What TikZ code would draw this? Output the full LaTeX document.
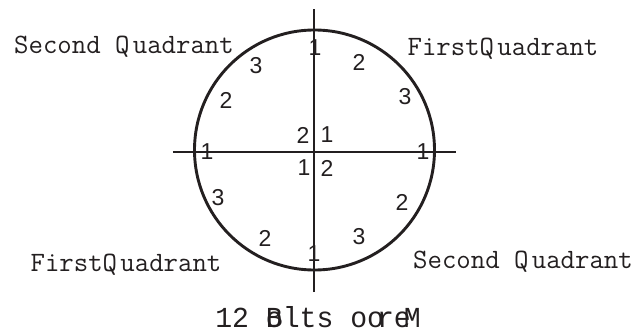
\documentclass[tikz,border=0pt]{standalone}
\usepackage{fontspec}
\newfontfamily\boltfont{Liberation Mono}
\newfontfamily\numfont{Liberation Sans}
\definecolor{inkblack}{HTML}{231F20}
\newcommand{\squeeze}[2]{\scalebox{#1}[1]{#2}}

\begin{document}
\begin{tikzpicture}[x=1pt, y=1pt,
    count/.style={font=\numfont\fontsize{23}{23}\selectfont, inner sep=0pt, text=inkblack},
    quad/.style={font=\ttfamily\fontsize{28}{28}\selectfont, inner sep=0pt, anchor=base, text=inkblack},
    boltline/.style={font=\boltfont\fontsize{29}{29}\selectfont, inner sep=0pt, anchor=base, text=inkblack}]
    \useasboundingbox (-314,-181) rectangle (324,152);
    % Coordinates
    \coordinate (O) at (0,0);
    \coordinate (C) at (0.5,2);
    \coordinate (T) at (0,143);
    \coordinate (B) at (0,-140);
    \coordinate (L) at (-141,0);
    \coordinate (R) at (142,0);

    % Axes and rim
    \draw[line width=1.3pt, color=inkblack] (L) -- (R);
    \draw[line width=1.3pt, color=inkblack] (B) -- (T);
    \draw[line width=2.9pt, color=inkblack] (C) circle (120pt);

    % Bolt order round the rim
    \node[count] (n1) at (1,104) {1};
    \node[count] (n2) at (45,90) {2};
    \node[count] (n3) at (91,55) {3};
    \node[count] (n4) at (109,0) {1};
    \node[count] (n5) at (88,-50) {2};
    \node[count] (n6) at (45,-85) {3};
    \node[count] (n7) at (0,-102) {1};
    \node[count] (n8) at (-49,-86) {2};
    \node[count] (n9) at (-96,-46) {3};
    \node[count] (n10) at (-107,0) {1};
    \node[count] (n11) at (-88,52) {2};
    \node[count] (n12) at (-58,86) {3};

    % Centre
    \node[count] (c1) at (-11,17) {2};
    \node[count] (c2) at (13,17) {1};
    \node[count] (c3) at (-10,-16) {1};
    \node[count] (c4) at (13,-16) {2};

    % Quadrants
    \node[quad] (sq1) at (-190,99) {Second Q\kern.12em uadrant};
    \node[quad] (fq1) at (189,97) {FirstQ\kern.12em uadrant};
    \node[quad] (fq2) at (-188,-119) {FirstQ\kern.12em uadrant};
    \node[quad] (sq2) at (209,-116) {Second Q\kern.12em uadrant};
    \node[boltline] (bolts) at (4,-175) {\squeeze{0.97}{12 \rlap{o}Blts o\rlap{o}\kern.35em re\kern-.25em M}};
\end{tikzpicture}
\end{document}
